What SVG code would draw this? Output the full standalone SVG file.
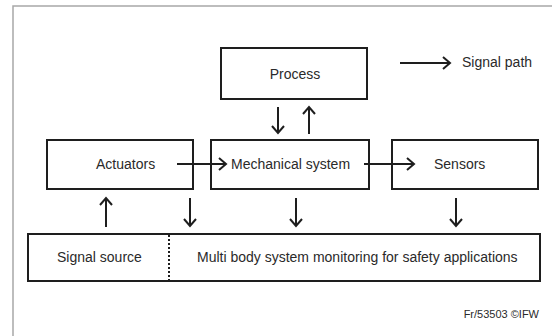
<svg xmlns="http://www.w3.org/2000/svg" width="552" height="336" viewBox="0 0 552 336">
  <style>
    .box { fill: #ffffff; stroke: #1e1e1e; stroke-width: 2; }
    .lbl { font-family: "Liberation Sans", Arial, sans-serif; font-size: 14px; fill: #2a2a2a; }
    .conn { stroke: #1e1e1e; stroke-width: 2; fill: none; marker-end: url(#arr); }
    .frame { stroke: #a8a8a8; stroke-width: 1.5; fill: none; }
  </style>
  <defs>
    <marker id="arr" markerUnits="userSpaceOnUse" viewBox="-10 -8 12 16" refX="0" refY="0" markerWidth="12" markerHeight="16" orient="auto">
      <path d="M -7 -6 L 0 0 L -7 6" fill="none" stroke="#1e1e1e" stroke-width="2"/>
    </marker>
  </defs>
  <rect width="552" height="336" fill="#ffffff"/>
  <path class="frame" d="M 13 336 L 13 6 L 552 6"/>

  <g id="process">
    <rect class="box" x="221" y="48" width="146" height="51"/>
    <text class="lbl" x="295" y="79" text-anchor="middle">Process</text>
  </g>
  <g id="actuators">
    <rect class="box" x="47" y="140" width="146" height="49"/>
    <text class="lbl" x="96" y="169">Actuators</text>
  </g>
  <g id="mechanical-system">
    <rect class="box" x="211" y="140" width="158" height="49"/>
    <text class="lbl" x="231" y="169">Mechanical system</text>
  </g>
  <g id="sensors">
    <rect class="box" x="392" y="140" width="146" height="49"/>
    <text class="lbl" x="434" y="169">Sensors</text>
  </g>
  <g id="monitoring">
    <rect class="box" x="28" y="234" width="512" height="47"/>
    <line x1="169" y1="235" x2="169" y2="280" stroke="#1e1e1e" stroke-width="2" stroke-dasharray="2 2"/>
    <text class="lbl" x="57" y="262">Signal source</text>
    <text class="lbl" x="197" y="262">Multi body system monitoring for safety applications</text>
  </g>

  <g id="connectors">
    <line class="conn" x1="278" y1="107" x2="278" y2="133"/>
    <line class="conn" x1="309" y1="134" x2="309" y2="107"/>
    <line class="conn" x1="177" y1="164" x2="226" y2="164"/>
    <line class="conn" x1="364" y1="164" x2="414" y2="164"/>
    <line class="conn" x1="106" y1="227" x2="106" y2="198"/>
    <line class="conn" x1="190" y1="198" x2="190" y2="226"/>
    <line class="conn" x1="296" y1="198" x2="296" y2="226"/>
    <line class="conn" x1="456" y1="198" x2="456" y2="226"/>
  </g>

  <g id="legend">
    <line class="conn" x1="400" y1="63" x2="450" y2="63"/>
    <text class="lbl" x="462" y="67">Signal path</text>
  </g>

  <text x="539" y="318" text-anchor="end" font-family="Liberation Sans, Arial, sans-serif" font-size="11" fill="#2a2a2a">Fr/53503 ©IFW</text>
</svg>
